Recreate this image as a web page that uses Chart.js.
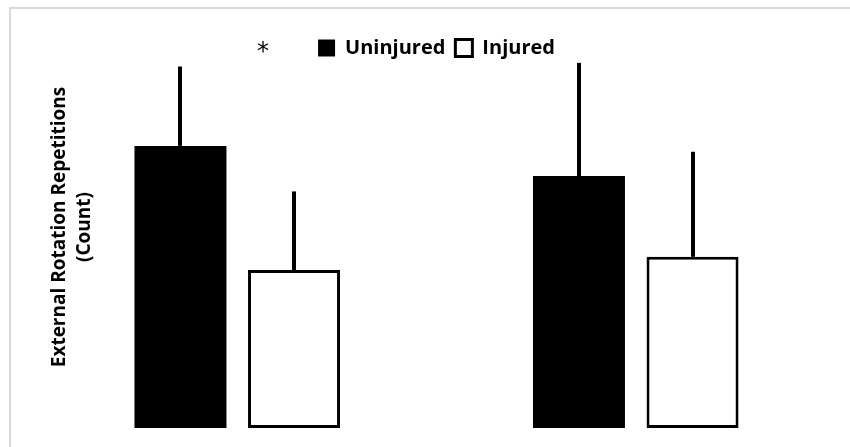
<!DOCTYPE html>
<html>
<head>
<meta charset="utf-8">
<script src="https://cdn.jsdelivr.net/npm/chart.js@4.4.1/dist/chart.umd.min.js"></script>
<style>
  html, body { margin: 0; padding: 0; background: #ffffff; }
  #wrap { position: relative; width: 850px; height: 447px; }
</style>
</head>
<body>
<div id="wrap"><canvas id="c" width="850" height="447"></canvas></div>
<script>
// ---- data ----
const categories = ["Group A", "Group B"];
const seriesNames = ["Uninjured", "Injured"];
const uninjuredValues = [38.4, 34.3];
const injuredValues = [21.5, 23.3];
const uninjuredErrors = [10.8, 15.4];
const injuredErrors = [10.7, 14.3];
const yTitleLines = ["External Rotation Repetitions", "(Count)"];
const significanceMark = "*";

const FONT = "'Open Sans', 'DejaVu Sans', sans-serif";

const frame = {
  id: 'frame',
  beforeDraw(chart) {
    const ctx = chart.ctx;
    ctx.save();
    ctx.fillStyle = '#ffffff';
    ctx.fillRect(0, 0, chart.width, chart.height);
    ctx.strokeStyle = '#d9d9d9';
    ctx.lineWidth = 2;
    ctx.strokeRect(10, 8, chart.width + 20, chart.height + 20);
    ctx.restore();
  }
};

const errorBars = {
  id: 'errorBars',
  afterDatasetsDraw(chart) {
    const ctx = chart.ctx;
    const y = chart.scales.y;
    ctx.save();
    ctx.strokeStyle = '#000000';
    ctx.lineWidth = 4;
    ctx.lineCap = 'butt';
    chart.data.datasets.forEach((ds, di) => {
      const meta = chart.getDatasetMeta(di);
      meta.data.forEach((bar, i) => {
        const v = ds.data[i];
        const e = ds.errors[i];
        const x = Math.round(bar.x);
        ctx.beginPath();
        ctx.moveTo(x, y.getPixelForValue(v));
        ctx.lineTo(x, y.getPixelForValue(v + e));
        ctx.stroke();
      });
    });
    ctx.restore();
  }
};

const texts = {
  id: 'texts',
  afterDraw(chart) {
    const ctx = chart.ctx;
    ctx.save();
    ctx.fillStyle = '#000000';
    // y axis title
    ctx.font = "bold 19px " + FONT;
    ctx.textAlign = 'center';
    ctx.textBaseline = 'middle';
    ctx.translate(0, 227);
    ctx.rotate(-Math.PI / 2);
    ctx.fillText(yTitleLines[0], 0, 60);
    ctx.fillText(yTitleLines[1], 0, 85);
    ctx.restore();
    // significance mark
    ctx.save();
    ctx.fillStyle = '#000000';
    ctx.font = "24px 'DejaVu Sans', sans-serif";
    ctx.textAlign = 'center';
    ctx.textBaseline = 'middle';
    ctx.fillText(significanceMark, 263, 53);
    ctx.restore();
  }
};

new Chart(document.getElementById('c'), {
  type: 'bar',
  data: {
    labels: categories,
    datasets: [
      {
        label: seriesNames[0],
        data: uninjuredValues,
        errors: uninjuredErrors,
        backgroundColor: '#000000',
        borderColor: '#000000',
        borderWidth: 0,
        categoryPercentage: 0.57,
        barPercentage: 0.81
      },
      {
        label: seriesNames[1],
        data: injuredValues,
        errors: injuredErrors,
        backgroundColor: '#ffffff',
        borderColor: '#000000',
        borderWidth: 3,
        borderSkipped: false,
        categoryPercentage: 0.57,
        barPercentage: 0.81
      }
    ]
  },
  options: {
    responsive: false,
    animation: false,
    devicePixelRatio: 1,
    layout: { padding: { left: 38, right: 15, top: 28, bottom: 19 } },
    scales: {
      x: { display: false },
      y: { display: false, min: 0, max: 49 }
    },
    plugins: {
      legend: {
        display: true,
        position: 'top',
        fullSize: false,
        labels: {
          color: '#000000',
          font: { family: FONT, size: 20, weight: 'bold' },
          boxWidth: 17,
          boxHeight: 17,
          padding: 10
        }
      },
      tooltip: { enabled: false }
    }
  },
  plugins: [frame, errorBars, texts]
});
</script>
</body>
</html>
